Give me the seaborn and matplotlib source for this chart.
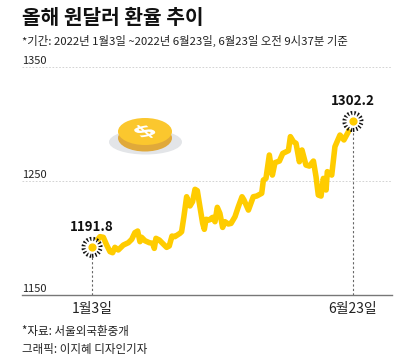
import pandas as pd
import matplotlib.pyplot as plt
import seaborn as sns
from matplotlib.patches import Ellipse, PathPatch
from matplotlib.font_manager import FontProperties
from matplotlib.textpath import TextPath
from matplotlib.transforms import Affine2D

# days since Jan 3
days = [0, 5.2, 7.4, 9.6, 11.8, 13.5, 15.0, 17.2, 20.5, 23.8, 26.0, 28.1, 29.9, 31.4,
        32.5, 34.7, 37.5, 39.7, 40.8, 41.9, 44.1, 46.7, 48.9, 50.6, 52.4, 54.3, 55.9,
        57.6, 58.7, 60.2, 62.0, 64.2, 65.9, 67.5, 69.0, 70.7, 72.5, 73.6, 74.7, 76.8,
        79.0, 80.6, 82.1, 83.8, 85.6, 87.1, 89.3, 91.1, 93.7, 95.9, 98.3, 99.6, 102.5,
        105.7, 107.9, 111.2, 112.3, 114.0, 116.2, 118.2, 119.9, 122.8, 125.0, 128.7,
        130.0, 132.0, 133.7, 135.9, 137.6, 140.2, 142.4, 145.1, 146.8, 148.3, 150.1,
        151.6, 153.4, 154.2, 157.1, 159.2, 162.5, 165.1, 168.0, 171]
rate = [1191.8, 1201.2, 1200.6, 1193.8, 1188.0, 1187.1, 1191.8, 1189.5, 1193.8, 1195.9,
        1198.8, 1204.7, 1206.1, 1196.8, 1200.6, 1197.6, 1195.9, 1195.3, 1190.9, 1199.7,
        1198.2, 1194.7, 1191.8, 1193.0, 1201.7, 1201.2, 1202.6, 1204.1, 1205.5, 1218.7,
        1236.2, 1228.1, 1231.9, 1242.7, 1241.5, 1227.5, 1212.9, 1207.6, 1216.4, 1215.8,
        1218.1, 1214.3, 1226.9, 1221.6, 1209.3, 1214.3, 1212.3, 1212.8, 1218.7, 1227.5,
        1236.2, 1233.3, 1224.5, 1236.2, 1236.8, 1239.2, 1250.8, 1252.3, 1272.8, 1255.2,
        1266.1, 1267.5, 1274.2, 1276.6, 1288.9, 1284.5, 1283.0, 1266.9, 1277.2, 1264.0,
        1263.1, 1267.5, 1253.8, 1237.7, 1236.8, 1252.3, 1242.1, 1258.2, 1255.2, 1280.1,
        1290.3, 1286.0, 1293.2, 1302.2]
y_ticks = [1150, 1250, 1350]
end_days = [0, 171]
end_rates = [1191.8, 1302.2]
end_names = ["1월3일", "6월23일"]

W, H = 420, 362
YELLOW = "#FFCC00"

sns.set_style("white")
plt.rcParams["font.family"] = ["Noto Sans CJK KR", "DejaVu Sans"]

df = pd.DataFrame({"day": days, "rate": rate})

fig = plt.figure(figsize=(W / 100, H / 100), dpi=100)
ax = fig.add_axes([22 / W, 1 - 295 / H, 370 / W, 228 / H])
ax.patch.set_alpha(0)

# reference lines
ax.axhline(1250, color="#cccccc", lw=0.6, ls=(0, (2, 2)), zorder=1)
ax.axhline(1350, color="#cccccc", lw=0.6, ls=(0, (2, 2)), zorder=1)
ax.vlines(end_days, 1150, end_rates, color="#666666", lw=0.8, ls=(0, (2, 2)), zorder=1)

sns.lineplot(data=df, x="day", y="rate", ax=ax, color=YELLOW, lw=4.0, zorder=3,
             solid_joinstyle="round", solid_capstyle="round", errorbar=None)

# end markers
ax.scatter(end_days, end_rates, s=150, facecolors="white", edgecolors="#111111",
           linewidths=2.9, linestyles=(0, (0.35, 0.5)), zorder=4)
ax.scatter(end_days, end_rates, s=24, color=YELLOW, zorder=5)

ax.set_xlim(-45.9, 196.6)
ax.set_ylim(1150, 1350)
ax.set_xlabel("")
ax.set_ylabel("")
ax.set_xticks([])
ax.set_yticks([])
sns.despine(ax=ax, left=True, top=True, right=True)
ax.spines["bottom"].set_color("#777777")
ax.spines["bottom"].set_linewidth(1.0)

for t in y_ticks:
    ax.annotate(str(t), (0, t), xycoords=("axes fraction", "data"), xytext=(0, 1),
                textcoords="offset points", fontsize=8, color="#222222", va="bottom", ha="left")

for d, r in zip(end_days, end_rates):
    ax.annotate(f"{r}", (d, r), xytext=(0, 9.5), textcoords="offset points",
                ha="center", va="bottom", fontsize=9.6, fontweight="bold", color="#111111")

for d, name in zip(end_days, end_names):
    ax.annotate(name, (d, 0), xycoords=("data", "axes fraction"), xytext=(0, -5),
                textcoords="offset points", ha="center", va="top", fontsize=10, color="#222222")

# coin
coin = fig.add_axes([0, 0, 1, 1])
coin.set_xlim(0, W)
coin.set_ylim(H, 0)
coin.axis("off")
coin.add_patch(Ellipse((145.5, 142), 73, 25, color="#e3e5e8", lw=0))
coin.add_patch(Ellipse((145, 138), 54, 27, color="#E0A93A", lw=0))
coin.add_patch(Ellipse((145, 131.5), 54, 27, color="#FBC72E", lw=0))
dollar = TextPath((0, 0), "$", size=22, prop=FontProperties(family="DejaVu Sans", weight="bold"))
box = dollar.get_extents()
squash = (Affine2D()
          .translate(-(box.x0 + box.x1) / 2, -(box.y0 + box.y1) / 2)
          .rotate_deg(30)
          .scale(1.45, -0.72)
          .translate(145, 131.5))
coin.add_patch(PathPatch(dollar, transform=squash + coin.transData, color="white", lw=0))

fig.text(22 / W, 1 - 17 / H, "올해 원달러 환율 추이", fontsize=14.6, fontweight="black", color="#111111",
         va="center", ha="left")
fig.text(22 / W, 1 - 41 / H, "*기간: 2022년 1월3일 ~2022년 6월23일, 6월23일 오전 9시37분 기준", fontsize=8.2,
         color="#222222", va="center", ha="left")
fig.text(22 / W, 1 - 331 / H, "*자료: 서울외국환중개", fontsize=8.3, color="#222222", va="center", ha="left")
fig.text(22 / W, 1 - 349 / H, "그래픽: 이지혜 디자인기자", fontsize=8.3, color="#222222", va="center", ha="left")

fig.savefig("out.png", dpi=100)
